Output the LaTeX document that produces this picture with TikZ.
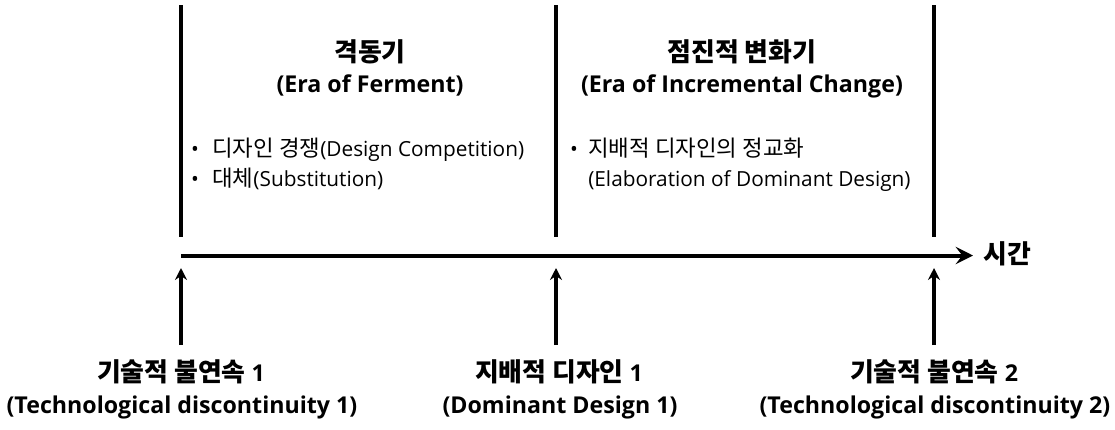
\documentclass[tikz,border=0pt]{standalone}
\usepackage{fontspec}
\setmainfont{Open Sans}
\newfontfamily\krfont{Noto Sans CJK KR}
\newcommand\krb[1]{{\krfont\bfseries\fontsize{19.4}{23}\selectfont #1}}
\newcommand\krr[1]{{\krfont\fontsize{16.8}{20}\selectfont #1}}
\usetikzlibrary{arrows.meta}
\begin{document}
\begin{tikzpicture}[x=0.75pt,y=-0.75pt,
  bar/.style={line width=3pt},
  uparrow/.style={line width=3pt,-{Stealth[length=9pt,width=9pt,inset=3pt]}},
  timearrow/.style={line width=3pt,-{Stealth[length=13pt,width=13pt,inset=5pt]}},
  head/.style={font=\fontsize{17.4}{21}\selectfont\bfseries,anchor=base,inner sep=0pt},
  item/.style={font=\fontsize{15.6}{19}\selectfont,anchor=base west,inner sep=0pt},
  dot/.style={font=\fontsize{15.6}{19}\selectfont,anchor=base,inner sep=0pt}]
\useasboundingbox (0,0) rectangle (1115,429);

% era boundaries
\coordinate (t1) at (181,5);   \coordinate (b1) at (181,237);
\coordinate (t2) at (556,5);   \coordinate (b2) at (556,237);
\coordinate (t3) at (934,5);   \coordinate (b3) at (934,237);
\draw[bar] (t1) -- (b1);
\draw[bar] (t2) -- (b2);
\draw[bar] (t3) -- (b3);

% time axis
\coordinate (axs) at (181,255.5);
\coordinate (axe) at (973,255.5);
\draw[timearrow] (axs) -- (axe);
\node[head,anchor=base west] (time) at (983,263.5) {\krb{시간}};

% events
\coordinate (e1) at (181,268); \coordinate (f1) at (181,345);
\coordinate (e2) at (556,268); \coordinate (f2) at (556,345);
\coordinate (e3) at (934,268); \coordinate (f3) at (934,345);
\draw[uparrow] (f1) -- (e1);
\draw[uparrow] (f2) -- (e2);
\draw[uparrow] (f3) -- (e3);

\node[head] (ev1a) at (181,381) {\krb{기술적 불연속} 1};
\node[head] (ev1b) at (182,413) {(Technological discontinuity 1)};
\node[head] (ev2a) at (559,381) {\krb{지배적 디자인} 1};
\node[head] (ev2b) at (560,413) {(Dominant Design 1)};
\node[head] (ev3a) at (934,381) {\krb{기술적 불연속} 2};
\node[head] (ev3b) at (935,413) {(Technological discontinuity 2)};

% eras
\node[head] (era1a) at (370,61) {\krb{격동기}};
\node[head] (era1b) at (370,92) {(Era of Ferment)};
\node[head] (era2a) at (742,61) {\krb{점진적 변화기}};
\node[head] (era2b) at (742,92) {(Era of Incremental Change)};

\node[dot] (d1) at (195,156.5) {•};
\node[dot] (d2) at (195,186.5) {•};
\node[item] (i1) at (212,156.5) {\krr{디자인 경쟁}(Design Competition)};
\node[item] (i2) at (212,186.5) {\krr{대체}(Substitution)};

\node[dot] (d3) at (574,156.5) {•};
\node[item] (i3) at (588,156.5) {\krr{지배적 디자인의 정교화}};
\node[item] (i4) at (588,186.5) {(Elaboration of Dominant Design)};
\end{tikzpicture}
\end{document}
